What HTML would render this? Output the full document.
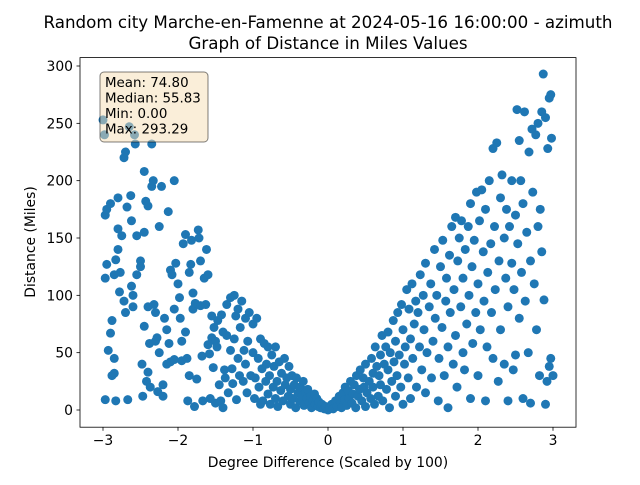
<!DOCTYPE html>
<html><head><meta charset="utf-8"><style>
body{margin:0;background:#fff;}
svg text{font-family:"DejaVu Sans","Liberation Sans",sans-serif;fill:#000;}
</style></head><body>
<svg id="chart" width="640" height="480" viewBox="0 0 640 480" xmlns="http://www.w3.org/2000/svg">
<rect width="640" height="480" fill="#fff"/>
<text x="328" y="28" font-size="16.7" text-anchor="middle">Random city Marche-en-Famenne at 2024-05-16 16:00:00  - azimuth</text>
<text x="328" y="49" font-size="16.7" text-anchor="middle">Graph of Distance in Miles Values</text>
<g id="points"></g>
<rect x="80" y="57.6" width="496" height="369.6" fill="none" stroke="#000" stroke-width="0.8"/>
<g id="axes"></g>
<text x="328" y="467" font-size="13.9" text-anchor="middle">Degree Difference (Scaled by 100)</text>
<text transform="translate(35,242) rotate(-90)" font-size="13.9" text-anchor="middle">Distance (Miles)</text>
<g>
<rect x="100" y="72" width="108" height="70" rx="4" fill="#f5deb3" fill-opacity="0.5" stroke="#000" stroke-opacity="0.5"/>
<text x="105" y="87" font-size="13.4">Mean: 74.80</text>
<text x="105" y="102.5" font-size="13.4">Median: 55.83</text>
<text x="105" y="118" font-size="13.4">Min: 0.00</text>
<text x="105" y="133.5" font-size="13.4">Max: 293.29</text>
</g>
</svg>
<script>
const xTicks=[-3,-2,-1,0,1,2,3];
const yTicks=[0,50,100,150,200,250,300];
const xs=[-3.0,-2.98,-2.97,-2.95,-2.97,-2.95,-2.93,-2.97,-2.9,-2.9,-2.88,-2.88,-2.85,-2.85,-2.83,-2.85,-2.83,-2.8,-2.8,-2.8,-2.78,-2.77,-2.75,-2.72,-2.72,-2.7,-2.7,-2.68,-2.67,-2.65,-2.63,-2.62,-2.62,-2.6,-2.6,-2.58,-2.57,-2.55,-2.55,-2.5,-2.5,-2.48,-2.47,-2.45,-2.45,-2.45,-2.43,-2.42,-2.4,-2.4,-2.4,-2.38,-2.37,-2.35,-2.35,-2.33,-2.32,-2.3,-2.3,-2.28,-2.27,-2.25,-2.25,-2.22,-2.2,-2.2,-2.18,-2.15,-2.15,-2.13,-2.12,-2.1,-2.1,-2.08,-2.05,-2.05,-2.05,-2.03,-2.0,-1.98,-1.97,-1.95,-1.95,-1.93,-1.9,-1.9,-1.88,-1.87,-1.85,-1.85,-1.83,-1.82,-1.8,-1.8,-1.78,-1.77,-1.75,-1.73,-1.72,-1.7,-1.7,-1.68,-1.67,-1.65,-1.63,-1.62,-1.6,-1.6,-1.58,-1.57,-1.55,-1.55,-1.53,-1.52,-1.5,-1.5,-1.48,-1.47,-1.45,-1.43,-1.42,-1.4,-1.4,-1.38,-1.37,-1.35,-1.35,-1.33,-1.3,-1.3,-1.28,-1.27,-1.25,-1.25,-1.23,-1.22,-1.2,-1.2,-1.18,-1.17,-1.15,-1.13,-1.12,-1.1,-1.1,-1.08,-1.07,-1.05,-1.03,-1.0,-1.0,-0.98,-0.97,-0.95,-0.93,-0.92,-0.9,-0.9,-0.88,-0.87,-0.85,-0.83,-0.82,-0.8,-0.8,-0.78,-0.77,-0.75,-0.73,-0.72,-0.7,-0.7,-0.68,-0.67,-0.65,-0.63,-0.62,-0.6,-0.58,-0.57,-0.55,-0.53,-0.52,-0.5,-0.5,-0.48,-0.47,-0.45,-0.43,-0.42,-0.4,-0.38,-0.37,-0.35,-0.33,-0.32,-0.3,-0.28,-0.27,-0.25,-0.23,-0.22,-0.2,-0.18,-0.17,-0.15,-0.13,-0.12,-0.1,-0.08,-0.05,-0.03,0.0,
0.02,0.05,0.07,0.1,0.12,0.15,0.17,0.18,0.2,0.22,0.23,0.25,0.27,0.28,0.3,0.32,0.33,0.35,0.37,0.38,0.4,0.42,0.43,0.45,0.47,0.48,0.5,0.5,0.52,0.55,0.57,0.58,0.6,0.6,0.62,0.63,0.65,0.67,0.68,0.7,0.7,0.72,0.73,0.75,0.77,0.78,0.8,0.8,0.82,0.83,0.85,0.87,0.88,0.9,0.9,0.92,0.93,0.95,0.97,0.98,1.0,1.0,1.02,1.03,1.05,1.07,1.08,1.1,1.1,1.12,1.13,1.15,1.17,1.18,1.2,1.22,1.23,1.25,1.27,1.28,1.3,1.3,1.32,1.35,1.37,1.38,1.4,1.42,1.43,1.45,1.47,1.48,1.5,1.52,1.53,1.55,1.57,1.58,1.6,1.6,1.62,1.63,1.65,1.67,1.68,1.7,1.7,1.72,1.73,1.75,1.77,1.78,1.8,1.8,1.82,1.83,1.85,1.87,1.88,1.9,1.9,1.92,1.93,1.95,1.97,1.98,2.0,2.0,2.02,2.03,2.05,2.07,2.08,2.1,2.1,2.12,2.13,2.15,2.17,2.18,2.2,2.2,2.22,2.23,2.25,2.27,2.28,2.3,2.3,2.32,2.35,2.35,2.37,2.38,2.4,2.4,2.42,2.45,2.45,2.47,2.48,2.5,2.5,2.52,2.53,2.55,2.55,2.57,2.58,2.6,2.6,2.62,2.63,2.65,2.67,2.68,2.7,2.7,2.72,2.73,2.75,2.77,2.78,2.8,2.8,2.82,2.83,2.85,2.85,2.87,2.88,2.9,2.9,2.92,2.93,2.95,2.95,2.97,2.97,2.98,3.0];
const ys=[253,240,170,175,115,127,52,9,180,67,78,30,32,45,8,118,131,185,158,140,103,120,152,220,95,85,225,177,9,247,187,165,108,100,90,240,232,152,118,130,125,40,12,73,208,155,182,25,33,178,90,58,20,195,232,200,92,85,60,63,16,50,160,195,22,12,80,70,40,173,58,42,122,118,200,88,44,128,110,98,80,60,43,145,153,68,45,8,120,30,127,148,102,88,3,93,27,157,150,91,130,47,8,115,92,140,118,57,49,10,82,63,37,72,60,6,55,78,22,8,83,68,2,35,28,92,65,15,98,52,36,23,100,62,82,9,88,45,30,72,95,25,52,80,40,15,60,85,30,75,50,10,28,80,45,20,62,5,36,8,58,25,40,14,55,30,5,48,20,38,10,55,25,3,42,17,32,8,45,22,28,12,38,5,18,30,10,22,2,28,15,8,20,12,25,4,15,10,18,6,12,2,8,14,5,10,3,7,2,5,1,3,0,
2,5,1,8,3,12,6,2,15,9,20,4,17,10,25,6,14,22,2,30,12,18,35,8,28,20,40,3,15,25,10,45,32,20,5,55,38,12,30,48,22,65,8,40,55,18,35,68,2,50,25,78,42,12,60,30,85,48,20,92,5,70,40,55,105,28,88,62,10,110,45,75,95,20,85,55,118,35,100,70,128,15,50,90,110,28,60,140,80,100,8,45,125,72,148,30,95,115,55,2,135,85,160,40,105,168,65,20,130,150,90,165,50,115,35,140,75,160,100,180,10,125,58,148,85,190,30,110,165,70,192,138,95,8,175,55,120,200,145,85,228,45,160,105,233,25,130,185,70,205,150,40,115,175,90,8,160,200,128,35,105,170,48,262,145,80,235,200,120,10,180,260,95,155,50,225,130,6,245,190,110,240,70,160,250,30,175,138,260,293,96,5,255,25,228,272,38,275,45,237,30];
const X0=80,X1=576,Y0=427.2,Y1=57.6;
function sx(v){return 328+v*75;}
function sy(v){return 410-v*(344/300);}
const NS="http://www.w3.org/2000/svg";
const pg=document.getElementById('points');
for(let i=0;i<xs.length;i++){
  const c=document.createElementNS(NS,'circle');
  c.setAttribute('cx',sx(xs[i]));c.setAttribute('cy',sy(ys[i]));c.setAttribute('r',4.5);c.setAttribute('fill','#1f77b4');
  
  
  pg.appendChild(c);
}
const ax=document.getElementById('axes');
xTicks.forEach(t=>{
  const l=document.createElementNS(NS,'line');
  l.setAttribute('x1',sx(t));l.setAttribute('x2',sx(t));l.setAttribute('y1',Y0);l.setAttribute('y2',Y0+3.5);l.setAttribute('stroke','#000');l.setAttribute('stroke-width','0.8');
  
  
  ax.appendChild(l);
  const tx=document.createElementNS(NS,'text');
  tx.setAttribute('x',sx(t));tx.setAttribute('y',Y0+18);tx.setAttribute('font-size','13.9');tx.setAttribute('text-anchor','middle');
  tx.textContent=(t<0?'\u2212'+(-t):t);
  
  
  ax.appendChild(tx);
});
yTicks.forEach(t=>{
  const l=document.createElementNS(NS,'line');
  l.setAttribute('x1',X0-3.5);l.setAttribute('x2',X0);l.setAttribute('y1',sy(t));l.setAttribute('y2',sy(t));l.setAttribute('stroke','#000');l.setAttribute('stroke-width','0.8');
  
  
  ax.appendChild(l);
  const tx=document.createElementNS(NS,'text');
  tx.setAttribute('x',X0-7);tx.setAttribute('y',sy(t)+5);tx.setAttribute('font-size','13.9');tx.setAttribute('text-anchor','end');
  tx.textContent=t;
  
  
  ax.appendChild(tx);
});
</script>
</body></html>
